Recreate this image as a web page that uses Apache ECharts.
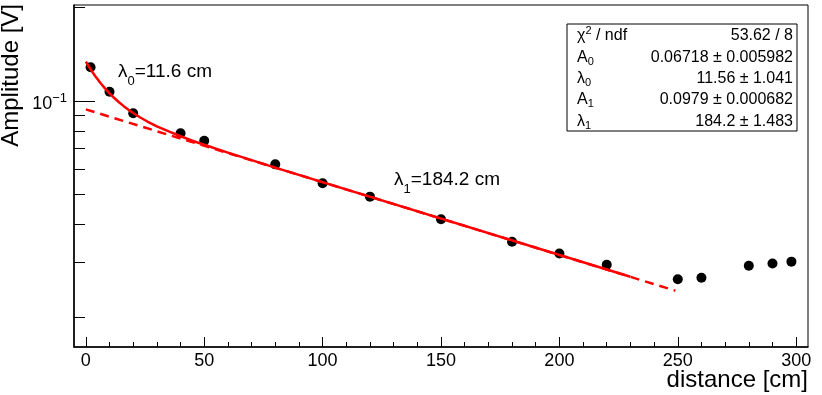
<!DOCTYPE html>
<html><head><meta charset="utf-8">
<script src="https://cdn.jsdelivr.net/npm/echarts@6/dist/echarts.min.js"></script>
<style>html,body{margin:0;padding:0;background:#fff}#c{width:822px;height:395px}</style>
</head><body><div id="c"></div>
<script>
// measured points
const distance = [2, 10, 20, 40, 50, 80, 100, 120, 150, 180, 200, 220, 250, 260, 280, 290, 298];
const amplitude = [0.1283, 0.1070, 0.0911, 0.0785, 0.0743, 0.0623, 0.0541, 0.0490, 0.0414, 0.0350, 0.0321, 0.0295, 0.0265, 0.0268, 0.0293, 0.0298, 0.0302];
// full fit curve
const fitX = [0, 1, 2, 3, 4, 5, 6, 7, 8, 10, 12, 14, 16, 18, 20, 23, 26, 30, 35, 40, 45, 50, 60, 80, 230];
const fitY = [0.1338, 0.1300, 0.1265, 0.1232, 0.1201, 0.1173, 0.1146, 0.1122, 0.1099, 0.1057, 0.1021, 0.0989, 0.0961, 0.0936, 0.0913, 0.0883, 0.0857, 0.0827, 0.0796, 0.0768, 0.0743, 0.0721, 0.0680, 0.0608, 0.0270];
// slow component (dashed)
const slowX = [0, 249];
const slowY = [0.0938, 0.02433];
// axes
const xMin = -5, xMax = 305;
const yMin = 0.016, yMax = 0.204;
const xMajorTicks = [0, 50, 100, 150, 200, 250, 300];
const xMinorTicks = [10, 20, 30, 40, 60, 70, 80, 90, 110, 120, 130, 140, 160, 170, 180, 190, 210, 220, 230, 240, 260, 270, 280, 290];
const yMajorTicks = [0.1];
const yMinorTicks = [0.02, 0.03, 0.04, 0.05, 0.06, 0.07, 0.08, 0.09, 0.2];
// stats box
const statLabels = ['{m|χ}{sup|2}{m| / ndf}', '{m|A}{sub|0}', '{m|λ}{sub|0}', '{m|A}{sub|1}', '{m|λ}{sub|1}'];
const statValues = ['53.62 / 8', '0.06718 ± 0.005982', '11.56 ± 1.041', '0.0979 ± 0.000682', '184.2 ± 1.483'];
// annotations
const annotations = [
  {text: '{m|λ}{s|0}{m|=11.6 cm}', x: 118, y: 72},
  {text: '{m|λ}{s|1}{m|=184.2 cm}', x: 394, y: 180}
];

const FF = '"Liberation Sans", Arial, Helvetica, sans-serif';
const chart = echarts.init(document.getElementById('c'), null, {renderer: 'canvas'});
const L10 = v => Math.log10(v);

const graphics = [];
graphics.push({type: 'text', x: 11, y: 4, rotation: Math.PI / 2, z: 10,
  style: {text: 'Amplitude [V]', font: '24px ' + FF, fill: '#000', align: 'right', verticalAlign: 'middle'}});
graphics.push({type: 'text', x: 808, y: 380, z: 10,
  style: {text: 'distance [cm]', font: '24px ' + FF, fill: '#000', align: 'right', verticalAlign: 'middle'}});
graphics.push({type: 'rect', z: 20, shape: {x: 567, y: 24, width: 230, height: 107},
  style: {fill: '#fff', stroke: '#000', lineWidth: 1}});
const statRich = {
  m: {fontSize: 16, fontFamily: FF, lineHeight: 20, fill: '#000'},
  sub: {fontSize: 11, fontFamily: FF, lineHeight: 10, verticalAlign: 'bottom', fill: '#000'},
  sup: {fontSize: 11, fontFamily: FF, lineHeight: 10, verticalAlign: 'top', fill: '#000'}
};
statLabels.forEach((lab, i) => {
  const y = 25 + 21.4 * (i + 0.5);
  graphics.push({type: 'text', z: 21, x: 577, y: y,
    style: {text: lab, rich: statRich, align: 'left', verticalAlign: 'middle', fill: '#000', font: '16px ' + FF}});
  graphics.push({type: 'text', z: 21, x: 793, y: y,
    style: {text: statValues[i], align: 'right', verticalAlign: 'middle', fill: '#000', font: '16px ' + FF}});
});
const annRich = {
  m: {fontSize: 19, fontFamily: FF, lineHeight: 32, fill: '#000'},
  s: {fontSize: 13, fontFamily: FF, lineHeight: 12, verticalAlign: 'bottom', fill: '#000'}
};
annotations.forEach(a => {
  graphics.push({type: 'text', z: 10, x: a.x, y: a.y,
    style: {text: a.text, rich: annRich, align: 'left', verticalAlign: 'middle', fill: '#000', font: '19px ' + FF}});
});

const option = {
  animation: false,
  backgroundColor: '#fff',
  grid: {left: 74, right: 14, top: 5, bottom: 48, show: true, borderColor: '#000', borderWidth: 1, containLabel: false, outerBoundsMode: 'none'},
  xAxis: [
    {type: 'value', min: xMin, max: xMax, position: 'bottom',
      axisLine: {show: true, onZero: false, lineStyle: {color: '#000', width: 1.5}},
      axisTick: {show: true, inside: true, length: 10, customValues: xMajorTicks, lineStyle: {color: '#000', width: 1}},
      axisLabel: {show: true, customValues: xMajorTicks, margin: 5, fontSize: 18, fontFamily: FF, color: '#000'},
      splitLine: {show: false}},
    {type: 'value', min: xMin, max: xMax, position: 'bottom', offset: 0,
      axisLine: {show: false, onZero: false},
      axisTick: {show: true, inside: true, length: 5, customValues: xMinorTicks, lineStyle: {color: '#000', width: 1}},
      axisLabel: {show: false},
      splitLine: {show: false}}
  ],
  yAxis: [
    {type: 'log', logBase: 10, min: yMin, max: yMax, position: 'left',
      axisLine: {show: true, onZero: false, lineStyle: {color: '#000', width: 1.5}},
      axisTick: {show: false}, axisLabel: {show: false}, splitLine: {show: false}, minorTick: {show: false}},
    {type: 'value', min: L10(yMin), max: L10(yMax), position: 'left', offset: 0,
      axisLine: {show: false, onZero: false},
      axisTick: {show: true, inside: true, length: 11, customValues: yMinorTicks.map(L10), lineStyle: {color: '#000', width: 1}},
      axisLabel: {show: false}, splitLine: {show: false}},
    {type: 'value', min: L10(yMin), max: L10(yMax), position: 'left', offset: 0,
      axisLine: {show: false, onZero: false},
      axisTick: {show: true, inside: true, length: 21, customValues: yMajorTicks.map(L10), lineStyle: {color: '#000', width: 1}},
      axisLabel: {show: true, customValues: yMajorTicks.map(L10), margin: 7, padding: [6, 0, 0, 0],
        formatter: v => '{b|10}{s|' + String(Math.round(v)).replace('-', '−') + '}',
        rich: {
          b: {fontSize: 18, fontFamily: FF, color: '#000', lineHeight: 24},
          s: {fontSize: 13, fontFamily: FF, color: '#000', lineHeight: 10, verticalAlign: 'top'}
        }},
      splitLine: {show: false}}
  ],
  series: [
    {type: 'scatter', xAxisIndex: 0, yAxisIndex: 0, z: 2, symbol: 'circle', symbolSize: 10,
      itemStyle: {color: '#000', opacity: 1}, data: distance.map((x, i) => [x, amplitude[i]])},
    {type: 'line', xAxisIndex: 0, yAxisIndex: 0, z: 3, symbol: 'none', showSymbol: false,
      lineStyle: {color: '#ff0000', width: 2.5, type: [9, 6]}, data: slowX.map((x, i) => [x, slowY[i]])},
    {type: 'line', xAxisIndex: 0, yAxisIndex: 0, z: 4, symbol: 'none', showSymbol: false,
      lineStyle: {color: '#ff0000', width: 2.5}, data: fitX.map((x, i) => [x, fitY[i]])}
  ],
  graphic: graphics
};
chart.setOption(option);
</script>
</body></html>
